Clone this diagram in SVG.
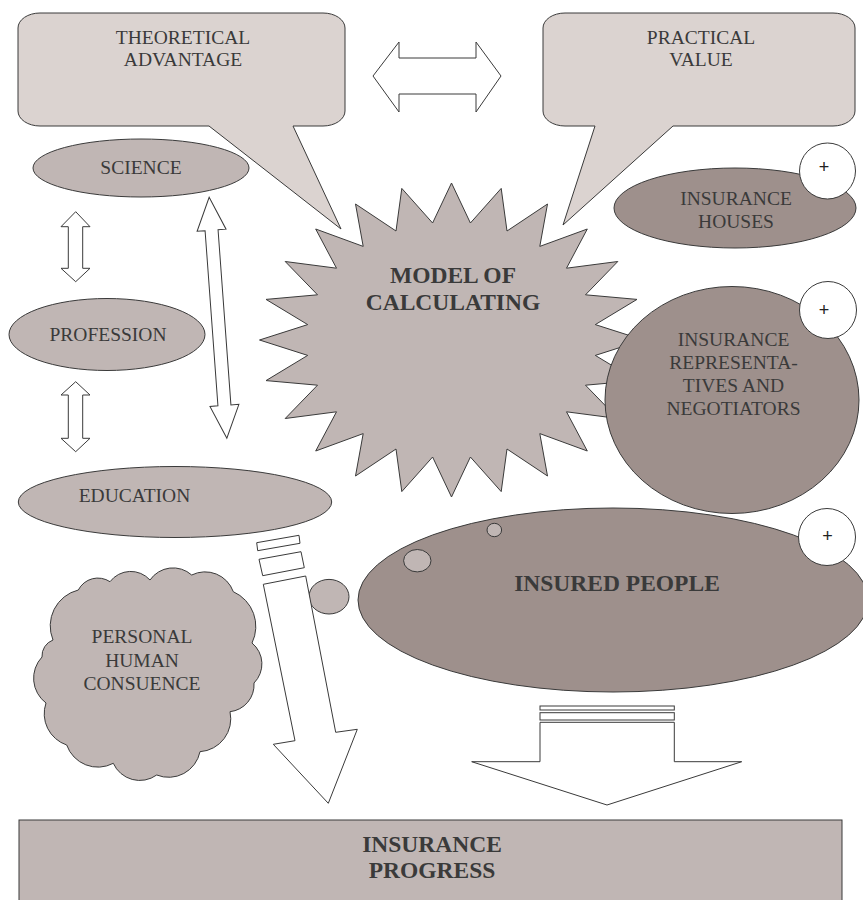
<svg xmlns="http://www.w3.org/2000/svg" width="863" height="900" viewBox="0 0 863 900">
<style>
.bub{fill:#dbd3d0;stroke:#3a3a3a;stroke-width:1}
.mid{fill:#c0b6b4;stroke:#3a3a3a;stroke-width:1}
.dark{fill:#9e908c;stroke:#3a3a3a;stroke-width:1}
.wht{fill:#ffffff;stroke:#3a3a3a;stroke-width:1}
.t{font-family:"Liberation Serif","Times New Roman",serif;font-size:19.5px;fill:#3a3a3a;text-anchor:middle}
.b{font-family:"Liberation Serif","Times New Roman",serif;font-size:23.5px;font-weight:bold;fill:#3a3a3a;text-anchor:middle}
.p{font-family:"Liberation Sans",Arial,sans-serif;font-size:18px;fill:#222;text-anchor:middle}
</style>
<rect width="863" height="900" fill="#ffffff"/>

<g id="theoretical-advantage">
<path class="bub" d="M40,13 H323 A22 15 0 0 1 345,28 V111 A22 15 0 0 1 323,126 H293 L341,229 L209,126 H40 A22 15 0 0 1 18,111 V28 A22 15 0 0 1 40,13 Z"/>
<text class="t" x="183" y="44">THEORETICAL</text>
<text class="t" x="183" y="66">ADVANTAGE</text>
</g>

<g id="practical-value">
<path class="bub" d="M565,13 H833 A22 15 0 0 1 855,28 V111 A22 15 0 0 1 833,126 H673 L563,225 L595,126 H565 A22 15 0 0 1 543,111 V28 A22 15 0 0 1 565,13 Z"/>
<text class="t" x="701" y="44">PRACTICAL</text>
<text class="t" x="701" y="66">VALUE</text>
</g>

<g id="model-of-calculating">
<polygon class="mid" points="451.5,183 470.4,223 501.2,188.4 507,231 547.5,204 539.8,246.4 587.3,229 566.5,268.2 617.8,261.5 585.5,294.8 637,299.4 595.3,324.6 643.5,340 595.3,355.4 637,380.6 585.5,385.2 617.8,418.5 566.5,411.8 587.3,451 539.8,433.6 547.5,476 507,449 501.2,491.6 470.4,457 451.5,497 432.6,457 401.8,491.6 396,449 355.5,476 363.2,433.6 315.7,451 336.5,411.8 285.2,418.5 317.5,385.2 266,380.6 307.7,355.4 259.5,340 307.7,324.6 266,299.4 317.5,294.8 285.2,261.5 336.5,268.2 315.7,229 363.2,246.4 355.5,204 396,231 401.8,188.4 432.6,223"/>
<text class="b" x="453" y="283">MODEL OF</text>
<text class="b" x="453" y="310">CALCULATING</text>
</g>

<g id="science">
<ellipse class="mid" cx="141" cy="168" rx="108" ry="29"/>
<text class="t" x="141" y="174">SCIENCE</text>
</g>

<g id="profession">
<ellipse class="mid" cx="107" cy="334.5" rx="98" ry="36"/>
<text class="t" x="108" y="341">PROFESSION</text>
</g>

<g id="education">
<ellipse class="mid" cx="175" cy="502" rx="156.7" ry="35.5"/>
<text class="t" x="134.5" y="502">EDUCATION</text>
</g>

<g id="insurance-houses">
<ellipse class="dark" cx="735" cy="208" rx="121" ry="40"/>
<text class="t" x="736" y="205">INSURANCE</text>
<text class="t" x="736" y="228">HOUSES</text>
<circle class="wht" cx="827.5" cy="171" r="28"/>
<text class="p" x="824" y="173">+</text>
</g>

<g id="insurance-representatives">
<ellipse class="dark" cx="732" cy="400" rx="127" ry="113.5"/>
<text class="t" x="733.5" y="346">INSURANCE</text>
<text class="t" x="733.5" y="369">REPRESENTA-</text>
<text class="t" x="733.5" y="392">TIVES AND</text>
<text class="t" x="733.5" y="415">NEGOTIATORS</text>
<circle class="wht" cx="828" cy="310" r="28.5"/>
<text class="p" x="824" y="316">+</text>
</g>

<g id="insured-people">
<ellipse class="dark" cx="613" cy="600" rx="255" ry="92"/>
<ellipse class="mid" cx="494.3" cy="530" rx="7.3" ry="6.7"/>
<ellipse class="mid" cx="417.3" cy="560.7" rx="13.7" ry="11.2"/>
<text class="b" x="617" y="591">INSURED PEOPLE</text>
<circle class="wht" cx="827" cy="537" r="28.5"/>
<text class="p" x="827.5" y="542">+</text>
</g>

<g id="personal-human-consuence">
<path class="mid" d="M53,640 A37 37 0 0 1 78.3,590 A22 22 0 0 1 110,581.7 A26 26 0 0 1 150,580 A28 28 0 0 1 191.7,575 A30 30 0 0 1 233.3,591.7 A38 38 0 0 1 252,643 A27 27 0 0 1 254,683 A27 27 0 0 1 230,711.7 A33 33 0 0 1 200,751.7 A32 32 0 0 1 156.7,775 A29 29 0 0 1 113.3,763.3 A33 33 0 0 1 66.7,745 A33 33 0 0 1 46,703 A31 31 0 0 1 42,657 A17 17 0 0 1 53,640 Z"/>
<text class="t" x="142" y="643">PERSONAL</text>
<text class="t" x="142" y="667">HUMAN</text>
<text class="t" x="142" y="690">CONSUENCE</text>
</g>

<g id="thought-circle">
<ellipse class="mid" cx="329" cy="596.7" rx="20" ry="17.3"/>
</g>

<g id="insurance-progress">
<rect class="mid" x="19" y="820" width="823" height="90"/>
<text class="b" x="432" y="852">INSURANCE</text>
<text class="b" x="432" y="878">PROGRESS</text>
</g>

<g id="connectors">
<polygon class="wht" points="373,76 399,42 399,58 476,58 476,42 501,76 476,112 476,94 399,94 399,112"/>
<polygon class="wht" points="75.7,211.7 90,226.7 82.7,226.7 82.7,268.3 90,268.3 75.7,281.7 61,268.3 68.3,268.3 68.3,226.7 61,226.7"/>
<polygon class="wht" points="75.7,381.7 90,395 82.7,395 82.7,438.3 90,438.3 75.7,451.7 61,438.3 68.3,438.3 68.3,395 61,395"/>
<g transform="translate(218,317.8) rotate(-4.2)">
<polygon class="wht" points="0,-120.8 14.5,-87.8 6.5,-87.8 6.5,87.8 14.5,87.8 0,120.8 -14.5,87.8 -6.5,87.8 -6.5,-87.8 -14.5,-87.8"/>
</g>
<polygon class="wht" points="256.7,542.7 299,535.3 300,543.3 257.7,550.7"/>
<polygon class="wht" points="259,559.3 301,551.7 304.3,567.7 262.7,575.7"/>
<polygon class="wht" points="263.3,584.3 305.7,576 335.7,732.3 357.3,729.3 328.3,803.3 273.3,744.3 295,740.7"/>
<rect class="wht" x="540" y="706" width="134.3" height="4"/>
<rect class="wht" x="540" y="712.7" width="134.3" height="7.3"/>
<polygon class="wht" points="540,722.3 674.3,722.3 674.3,761.7 741.7,761.7 607,805 471.7,761.7 540,761.7"/>
</g>
</svg>
